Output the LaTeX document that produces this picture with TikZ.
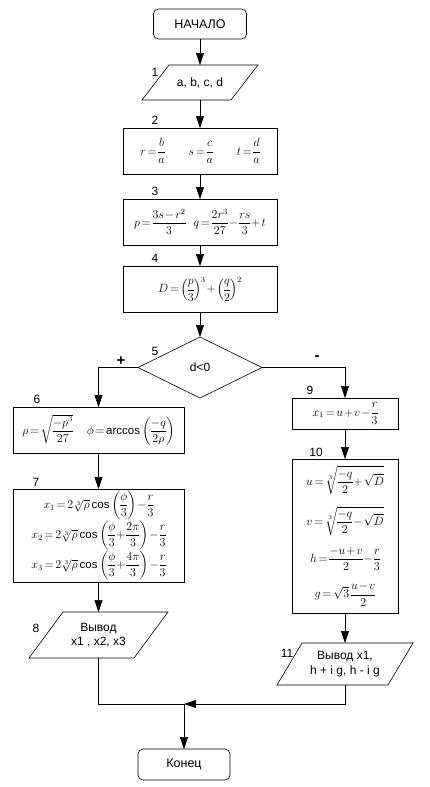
\documentclass[tikz,border=0pt]{standalone}
\usepackage{fontspec}
\setmainfont{Liberation Sans}
\usepackage{amsmath}
\usetikzlibrary{arrows.meta,calc}
\newcommand\paragr[2]{\draw[ln] (#1.south west) -- ([xshift=-#2pt]#1.south east) -- (#1.north east) -- ([xshift=#2pt]#1.north west) -- cycle;}
\newcommand\tightmath{\medmuskip=1.5mu plus 1mu\thickmuskip=2.5mu plus 1mu\nulldelimiterspace=0pt}
\begin{document}
\begin{tikzpicture}[x=1pt,y=-1pt,
  every node/.style={inner sep=0pt, outer sep=0pt},
  ln/.style={line width=0.6pt},
  proc/.style={draw, rectangle, ln, align=center, font=\fontsize{11.5}{13}\selectfont\tightmath},
  term/.style={draw, rectangle, rounded corners=5pt, ln, font=\fontsize{12.5}{14}\selectfont},
  iobox/.style={rectangle, align=center, font=\fontsize{12}{14.5}\selectfont},
  decis/.style={rectangle, font=\fontsize{12}{13}\selectfont},
  num/.style={font=\fontsize{12}{13}\selectfont},
  sign/.style={font=\fontsize{15}{15}\bfseries},
  arr/.style={ln, -{Triangle[length=12pt,width=8pt]}},
]
\useasboundingbox (0,0) rectangle (429,787);
\fill[white] (0,0) rectangle (429,787);

\node[term, minimum width=93pt, minimum height=30pt] (start) at (200,24) {НАЧАЛО};
\node[iobox, minimum width=116pt, minimum height=35pt] (p1) at (200,82.5) {a, b, c, d};
\paragr{p1}{27}
\node[proc, minimum width=154pt, minimum height=46pt] (b2) at (200,151)
  {$r=\dfrac{b}{a}\hspace{24pt}s=\dfrac{c}{a}\hspace{24pt}t=\dfrac{d}{a}$};
\node[proc, minimum width=154pt, minimum height=46pt] (b3) at (200,222)
  {$p=\dfrac{3s-r^2}{3}\hspace{8pt}q=\dfrac{2r^3}{27}-\dfrac{rs}{3}+t$};
\node[proc, minimum width=154pt, minimum height=46pt] (b4) at (200,289)
  {$D=\left(\dfrac{p}{3}\right)^{3}+\left(\dfrac{q}{2}\right)^{2}$};
\node[decis, minimum width=124pt, minimum height=61pt] (d5) at (200,367.5) {d<0};
\draw[ln] (d5.north) -- (d5.east) -- (d5.south) -- (d5.west) -- cycle;

\node[proc, minimum width=171pt, minimum height=46pt] (b6) at (98.5,430)
  {$\rho=\sqrt{\dfrac{-p^{3}}{27}}\hspace{14pt}\phi=\arccos\left(\dfrac{-q}{2\rho}\right)$};
\node[proc, minimum width=171pt, minimum height=93pt] (b7) at (98.5,535.5)
  {$\displaystyle x_1=2\sqrt[3]{\rho}\cos\left(\frac{\phi}{3}\right)-\frac{r}{3}$\\[0pt]
   $\displaystyle x_2=2\sqrt[3]{\rho}\cos\left(\frac{\phi}{3}+\frac{2\pi}{3}\right)-\frac{r}{3}$\\[0pt]
   $\displaystyle x_3=2\sqrt[3]{\rho}\cos\left(\frac{\phi}{3}+\frac{4\pi}{3}\right)-\frac{r}{3}$};
\node[iobox, minimum width=139pt, minimum height=46pt] (p8) at (98.5,635) {Вывод\\x1 , x2, x3};
\paragr{p8}{34}

\node[proc, minimum width=106pt, minimum height=31pt] (b9) at (345,413.5)
  {$x_1=u+v-\dfrac{r}{3}$};
\node[proc, minimum width=106pt, minimum height=154pt] (b10) at (345,536)
  {$\displaystyle u=\sqrt[3]{\frac{-q}{2}+\sqrt{D}}$\\[10pt]
   $\displaystyle v=\sqrt[3]{\frac{-q}{2}-\sqrt{D}}$\\[11pt]
   $\displaystyle h=\frac{-u+v}{2}-\frac{r}{3}$\\[11pt]
   $\displaystyle g=\sqrt{3}\,\frac{u-v}{2}$};
\node[iobox, minimum width=136pt, minimum height=42pt] (p11) at (345,664) {Вывод x1,\\h + i g, h - i g};
\paragr{p11}{25}

\node[term, minimum width=92pt, minimum height=31pt] (end) at (184,764.5) {Конец};
\coordinate (m) at (184,704);

\node[num] (n1) at (155,72) {1};
\node[num] (n2) at (155,120) {2};
\node[num] (n3) at (155,191) {3};
\node[num] (n4) at (155,258) {4};
\node[num] (n5) at (155,351) {5};
\node[num] (n6) at (37,399) {6};
\node[num] (n7) at (36,482) {7};
\node[num] (n8) at (36,628) {8};
\node[num] (n9) at (310,390) {9};
\node[num] (n10) at (316,452) {10};
\node[num] (n11) at (287,653) {11};
\node[sign] (plus) at (121,361) {+};
\node[sign] (minus) at (317,358) {-};

\draw[arr] (start) -- (p1);
\draw[arr] (p1) -- (b2);
\draw[arr] (b2) -- (b3);
\draw[arr] (b3) -- (b4);
\draw[arr] (b4) -- (d5.north);
\draw[arr] (d5.west) -| (b6.north);
\draw[arr] (d5.east) -| (b9.north);
\draw[arr] (b6) -- (b7);
\draw[arr] (b7) -- (p8);
\draw[arr] (b9) -- (b10);
\draw[arr] (b10) -- (p11);
\draw[ln] (p8.south) |- (m);
\draw[arr] (p11.south) |- (m);
\draw[arr] (m) -- (end);
\end{tikzpicture}
\end{document}
